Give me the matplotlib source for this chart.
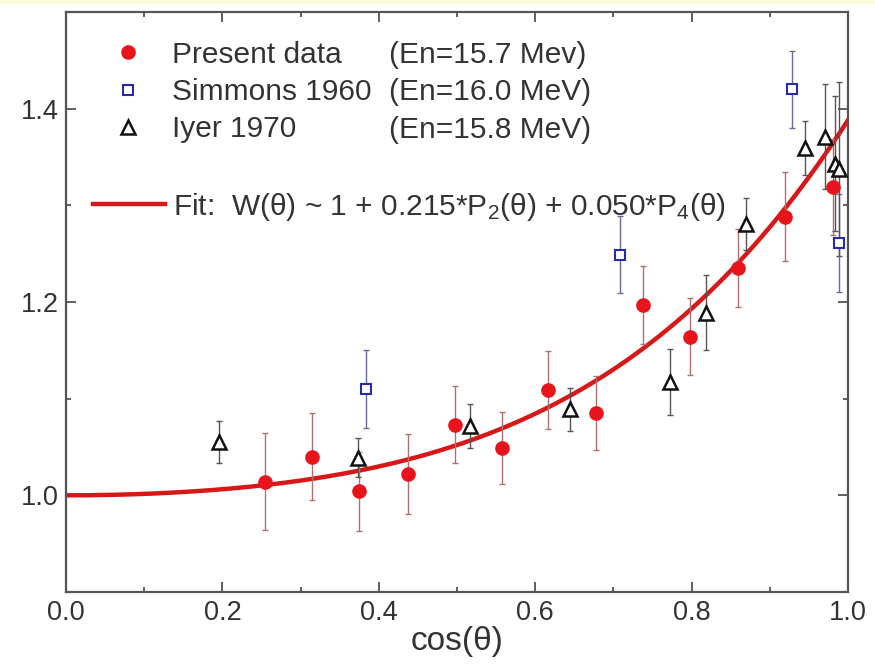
import numpy as np
import matplotlib
matplotlib.use("Agg")
import matplotlib.pyplot as plt
from matplotlib.patches import Rectangle
from matplotlib.ticker import MultipleLocator, FixedLocator

plt.rcParams['font.family'] = ['Liberation Sans', 'DejaVu Sans']
plt.rcParams['mathtext.fontset'] = 'custom'
plt.rcParams['mathtext.rm'] = 'Liberation Sans'
plt.rcParams['mathtext.it'] = 'Liberation Sans:italic'

# present data (En=15.7 MeV)
x_present = [0.255, 0.315, 0.375, 0.437, 0.497, 0.557, 0.617, 0.678, 0.738, 0.798, 0.859, 0.919, 0.981]
y_present = [1.014, 1.040, 1.004, 1.022, 1.073, 1.049, 1.109, 1.085, 1.197, 1.164, 1.235, 1.288, 1.319]
e_present = [0.050, 0.045, 0.041, 0.041, 0.040, 0.037, 0.040, 0.038, 0.040, 0.040, 0.040, 0.046, 0.050]

# Simmons 1960
x_simmons = [0.383, 0.709, 0.928, 0.988]
y_simmons = [1.110, 1.249, 1.420, 1.261]
e_simmons = [0.040, 0.040, 0.040, 0.051]

# Iyer 1970
x_iyer = [0.196, 0.373, 0.517, 0.645, 0.772, 0.819, 0.869, 0.945, 0.971, 0.983, 0.988]
y_iyer = [1.055, 1.039, 1.072, 1.089, 1.117, 1.189, 1.281, 1.359, 1.371, 1.343, 1.338]
e_iyer = [0.022, 0.020, 0.023, 0.022, 0.034, 0.039, 0.027, 0.028, 0.054, 0.070, 0.090]

# fit coefficients, W ~ 1 + a2*P2 + a4*P4 (normalised to 1 at cos=0)
a2 = 0.215
a4 = 0.050

names = ["Present data", "Simmons 1960", "Iyer 1970"]
energies = ["(En=15.7 Mev)", "(En=16.0 MeV)", "(En=15.8 MeV)"]


def legendre_w(x):
    p2 = (3 * x**2 - 1) / 2
    p4 = (35 * x**4 - 30 * x**2 + 3) / 8
    return 1 + a2 * p2 + a4 * p4


fig = plt.figure(figsize=(8.75, 6.69), dpi=100)
fig.patches.append(Rectangle((0, 1 - 4 / 669), 1, 4 / 669, transform=fig.transFigure,
                             facecolor='#fffbd8', edgecolor='none'))
ax = fig.add_axes([66 / 875, 77 / 669, 782 / 875, 580 / 669])

xs = np.linspace(0, 1, 200)
fit_line, = ax.plot(xs, legendre_w(xs) / legendre_w(0.0), color='#d81818', lw=3.2, zorder=2)

ax.errorbar(x_present, y_present, yerr=e_present, fmt='none', ecolor='#b07070',
            elinewidth=1, capsize=2, zorder=3)
h1, = ax.plot(x_present, y_present, 'o', color='#e8141b', ms=9.5, mec='#e8141b', zorder=4)

ax.errorbar(x_simmons, y_simmons, yerr=e_simmons, fmt='none', ecolor='#6a6aa0',
            elinewidth=1, capsize=2, zorder=3)
h2, = ax.plot(x_simmons, y_simmons, 's', mfc='white', mec='#2a2aa8', mew=1.5, ms=7.5, zorder=4)

ax.errorbar(x_iyer, y_iyer, yerr=e_iyer, fmt='none', ecolor='#555555',
            elinewidth=1, capsize=2, zorder=3)
h3, = ax.plot(x_iyer, y_iyer, '^', mfc='white', mec='#111111', mew=1.8, ms=10, zorder=4)

ax.set_xlim(0, 1.0)
ax.set_ylim(0.9, 1.5)
ax.xaxis.set_major_locator(MultipleLocator(0.2))
ax.xaxis.set_minor_locator(MultipleLocator(0.1))
ax.yaxis.set_major_locator(FixedLocator([1.0, 1.2, 1.4]))
ax.yaxis.set_minor_locator(FixedLocator([0.9, 1.1, 1.3, 1.5]))
ax.tick_params(which='both', direction='in', top=True, right=True, color='#444444',
               labelsize=19.5, labelcolor='#333333')
ax.tick_params(which='major', length=7, width=1.2)
ax.tick_params(which='minor', length=3.5, width=1.2)
ax.tick_params(axis='y', pad=5)
ax.tick_params(axis='x', pad=6)
for s in ax.spines.values():
    s.set_color('#555555')
    s.set_linewidth(1.6)

ax.set_xlabel("cos(θ)", fontsize=24, color='#333333', labelpad=0)

leg1 = ax.legend([h1, h2, h3], names,
                 loc='center left', bbox_to_anchor=(0.0597, 0.862), frameon=False,
                 fontsize=21.5, handlelength=1.0, handletextpad=0.97, labelspacing=0.31,
                 borderpad=0, borderaxespad=0, labelcolor='#333333')
ax.add_artist(leg1)
ax.legend([fit_line],
          ["Fit:  W(θ) ~ 1 + 0.215*P$_2$(θ) + 0.050*P$_4$(θ)"],
          loc='center left', bbox_to_anchor=(0.0345, 0.664), frameon=False,
          fontsize=21.5, handlelength=2.4, handletextpad=0.27, borderpad=0,
          borderaxespad=0, labelcolor='#333333')

for i, txt in enumerate(energies):
    ax.text(0.413, 0.926 - i * 0.0645, txt, transform=ax.transAxes, fontsize=21.5,
            color='#333333', va='center', ha='left')

fig.savefig("out.png", dpi=100)
